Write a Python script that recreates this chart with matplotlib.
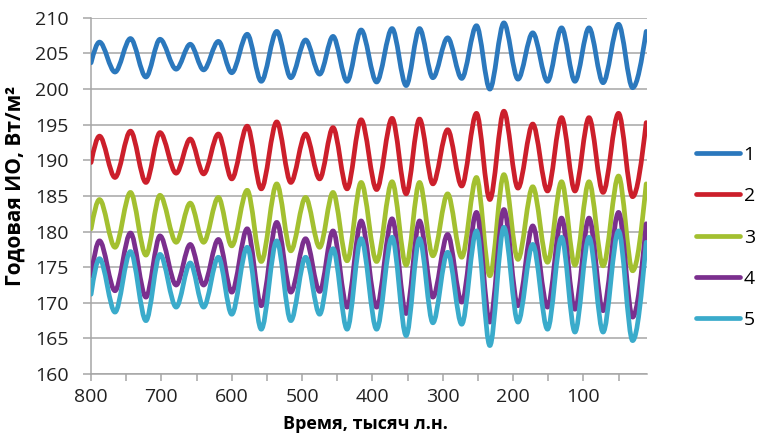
import matplotlib
matplotlib.use("Agg")
import matplotlib.pyplot as plt
from matplotlib.path import Path
from matplotlib.patches import PathPatch
from matplotlib.lines import Line2D

plt.rcParams['font.family'] = ['Open Sans', 'DejaVu Sans']

# time of turning points, thousand years BP (start, extrema..., end)
time_kyr = [800, 788, 766, 744, 722, 702, 679, 659, 640, 619, 600, 578, 558, 536,
            516, 495, 475, 456, 436, 416, 394, 372, 352, 333, 314, 293, 273, 252,
            233, 213, 193, 172, 151, 131, 112, 92, 72, 50, 30, 10.7]

s1 = [203.7, 206.6, 202.4, 207.1, 201.7, 207.0, 202.8, 206.3, 202.7, 206.7, 202.3,
      207.7, 201.1, 208.1, 201.6, 206.9, 202.1, 207.4, 201.1, 208.3, 201.0, 208.5,
      200.5, 208.5, 201.6, 207.2, 201.5, 208.9, 200.0, 209.3, 201.4, 207.9, 201.1,
      208.6, 201.1, 208.6, 200.9, 209.1, 200.2, 208.1]
s2 = [189.7, 193.4, 187.6, 194.1, 186.9, 193.9, 188.2, 193.0, 188.1, 193.7, 187.4,
      194.8, 186.0, 195.4, 186.9, 193.7, 187.4, 194.6, 186.0, 195.7, 185.9, 195.9,
      185.3, 195.8, 186.7, 194.3, 186.4, 196.6, 184.5, 196.9, 186.1, 195.1, 185.7,
      196.0, 185.7, 196.0, 185.5, 196.6, 184.9, 195.3]
s3 = [180.4, 184.5, 177.8, 185.5, 176.7, 185.1, 178.5, 184.0, 178.5, 184.8, 178.0,
      185.8, 175.8, 186.7, 177.3, 184.8, 177.8, 185.5, 175.9, 186.9, 175.8, 187.0,
      175.3, 186.9, 176.6, 185.3, 176.4, 187.6, 173.8, 188.0, 176.1, 186.3, 175.7,
      187.0, 175.3, 187.0, 175.2, 187.8, 174.5, 186.7]
s4 = [173.8, 178.7, 171.7, 179.8, 170.8, 179.4, 172.5, 178.2, 172.5, 178.9, 171.5,
      180.4, 169.6, 181.3, 171.5, 179.0, 171.6, 180.1, 169.4, 181.5, 169.4, 181.8,
      168.5, 181.5, 170.8, 179.6, 170.1, 182.7, 167.3, 183.1, 169.6, 180.8, 169.4,
      181.9, 169.1, 181.9, 168.9, 182.7, 168.0, 181.1]
s5 = [171.2, 176.2, 168.7, 177.2, 167.5, 176.8, 169.4, 175.6, 169.4, 176.4, 168.4,
      177.8, 166.3, 178.7, 167.5, 176.4, 168.4, 177.6, 166.3, 179.0, 166.3, 179.2,
      165.4, 179.0, 167.2, 177.1, 167.0, 180.1, 164.0, 180.6, 167.3, 178.2, 166.3,
      179.2, 165.9, 179.2, 165.9, 180.1, 164.7, 178.5]

series = [s1, s2, s3, s4, s5]
names = ['1', '2', '3', '4', '5']
colors = ['#2b78bd', '#cc1f2b', '#a3c030', '#7b2f8e', '#3aabcb']

y_ticks = [160, 165, 170, 175, 180, 185, 190, 195, 200, 205, 210]
x_ticks = [800, 750, 700, 650, 600, 550, 500, 450, 400, 350, 300, 250, 200, 150, 100, 50]
x_labels = [str(t) if t % 100 == 0 else '' for t in x_ticks]


def smooth_path(xs, ys):
    # cubic bezier, flat tangents at the turning points
    verts = [(xs[0], ys[0])]
    codes = [Path.MOVETO]
    n = len(xs)
    for i in range(n - 1):
        x0, y0, x1, y1 = xs[i], ys[i], xs[i + 1], ys[i + 1]
        dx = (x1 - x0) / 3
        if i == 0:
            c1 = (x0 + dx, y0 + 0.52 * (y1 - y0))
        else:
            c1 = (x0 + dx, y0)
        if i == n - 2:
            c2 = (x1 - dx, y1 - 0.52 * (y1 - y0))
        else:
            c2 = (x1 - dx, y1)
        verts += [c1, c2, (x1, y1)]
        codes += [Path.CURVE4] * 3
    return Path(verts, codes)


fig = plt.figure(figsize=(7.59, 4.36), dpi=100)
ax = fig.add_axes([0.120, 0.142, 0.732, 0.817])

for ys, c in zip(series, colors):
    ax.add_patch(PathPatch(smooth_path(time_kyr, ys), fill=False, edgecolor=c,
                           lw=3.4, capstyle='round', joinstyle='round', zorder=3))

ax.set_xlim(800, 10)
ax.set_ylim(160, 210)
ax.set_yticks(y_ticks)
ax.set_xticks(x_ticks)
ax.set_xticklabels(x_labels)
ax.grid(axis='y', color='#a6a6a6', lw=1.1)
ax.set_axisbelow(True)
for side in ['top', 'right']:
    ax.spines[side].set_visible(False)
for side in ['left', 'bottom']:
    ax.spines[side].set_color('#a6a6a6')
    ax.spines[side].set_linewidth(1.1)
ax.tick_params(axis='both', colors='#a6a6a6', labelcolor='#222222', labelsize=14,
               width=1.1, direction='out')
ax.tick_params(axis='x', length=5, pad=5)
ax.tick_params(axis='y', length=6, pad=10)

ax.set_xlabel('Время, тысяч л.н.', fontsize=13, fontweight='bold')
ax.set_ylabel('Годовая ИО, Вт/м²', fontsize=15, fontweight='bold')
ax.xaxis.set_label_coords(0.494, -0.115)
ax.yaxis.set_label_coords(-0.117, 0.527)

handles = [Line2D([], [], color=c, lw=3.4, solid_capstyle='round') for c in colors]
fig.legend(handles, names, loc='center left', bbox_to_anchor=(0.917, 0.455),
           frameon=False, fontsize=14, handlelength=2.25, handletextpad=0.2,
           labelspacing=1.2, borderpad=0, borderaxespad=0)

fig.savefig('out.png', dpi=100)
